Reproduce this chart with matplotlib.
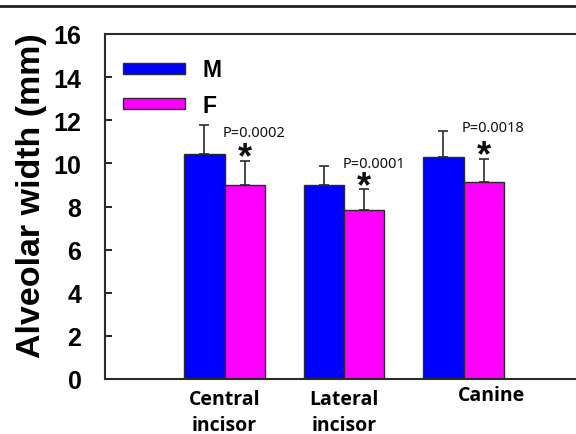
import matplotlib.pyplot as plt
from matplotlib.lines import Line2D
from matplotlib.transforms import ScaledTranslation
import numpy as np

groups = ["Central\nincisor", "Lateral\nincisor", "Canine"]
male = [10.45, 8.98, 10.28]
male_sd = [1.35, 0.9, 1.22]
female = [8.98, 7.85, 9.14]
female_sd = [1.12, 0.97, 1.08]
p_labels = ["P=0.0002", "P=0.0001", "P=0.0018"]
p_y = [11.45, 10.0, 11.65]
star_y = [10.25, 8.9, 10.35]

BLUE = "#0000ff"
PINK = "#ff00ff"
EDGE = "#2b2b2b"

fig = plt.figure(figsize=(5.76, 4.35), dpi=100)
ax = fig.add_axes([105 / 576, 55 / 435, 478 / 576, 345 / 435])

x = np.arange(1, len(groups) + 1)
w = 0.335

ax.bar(x - w / 2, male, w, color=BLUE, edgecolor=EDGE, linewidth=1.0, label="M", zorder=2)
ax.bar(x + w / 2, female, w, color=PINK, edgecolor=EDGE, linewidth=1.0, label="F", zorder=2)
ax.errorbar(x - w / 2, male, yerr=[np.zeros(3), male_sd], fmt="none", ecolor=EDGE,
            elinewidth=1.2, capsize=3.5, capthick=1.2, zorder=1)
ax.errorbar(x + w / 2, female, yerr=[np.zeros(3), female_sd], fmt="none", ecolor=EDGE,
            elinewidth=1.2, capsize=3.5, capthick=1.2, zorder=1)

for xi, py, sy, lab in zip(x, p_y, star_y, p_labels):
    ax.text(xi + w / 2 + 0.08, py, lab, ha="center", va="center", fontsize=10.5,
            family="Noto Sans", color="#111111")
    ax.text(xi + w / 2, sy, "*", ha="center", va="center", fontsize=26,
            family="Liberation Sans", fontweight="bold", color="#111111")

ax.set_xlim(0, 4)
ax.set_ylim(0, 16)
ax.set_yticks(range(0, 17, 2))
ax.set_xticks(x)
ax.set_xticklabels(groups, fontsize=14, family="Open Sans", fontweight="bold",
                   linespacing=1.4)
ax.tick_params(axis="x", length=0, pad=7)
ax.tick_params(axis="y", direction="in", length=5, width=1.2, pad=17)
for lab in ax.get_yticklabels():
    lab.set_family(["Liberation Sans Narrow", "Liberation Sans"])
    lab.set_fontweight("bold")
    lab.set_fontsize(18)
# Canine label sits right of its group
canine = ax.get_xticklabels()[2]
canine.set_transform(canine.get_transform() + ScaledTranslation(28 / 100, 4 / 100, fig.dpi_scale_trans))

ax.set_ylabel("Alveolar width (mm)", fontsize=24.5, family="Liberation Sans",
              fontweight="bold")
ax.yaxis.set_label_coords(-0.121, 0.533)
for s in ax.spines.values():
    s.set_linewidth(1.5)
    s.set_color(EDGE)

leg = ax.legend(loc="upper left", bbox_to_anchor=(0.019, 0.956), frameon=False,
                prop={"family": "Liberation Sans", "weight": "bold", "size": 16.5},
                handlelength=2.7, handleheight=0.36, labelspacing=0.55, handletextpad=0.75,
                borderaxespad=0)

fig.add_artist(Line2D([0, 1], [428 / 435, 428 / 435], transform=fig.transFigure,
                      color="#222222", linewidth=2))

fig.savefig("out.png", dpi=100)
